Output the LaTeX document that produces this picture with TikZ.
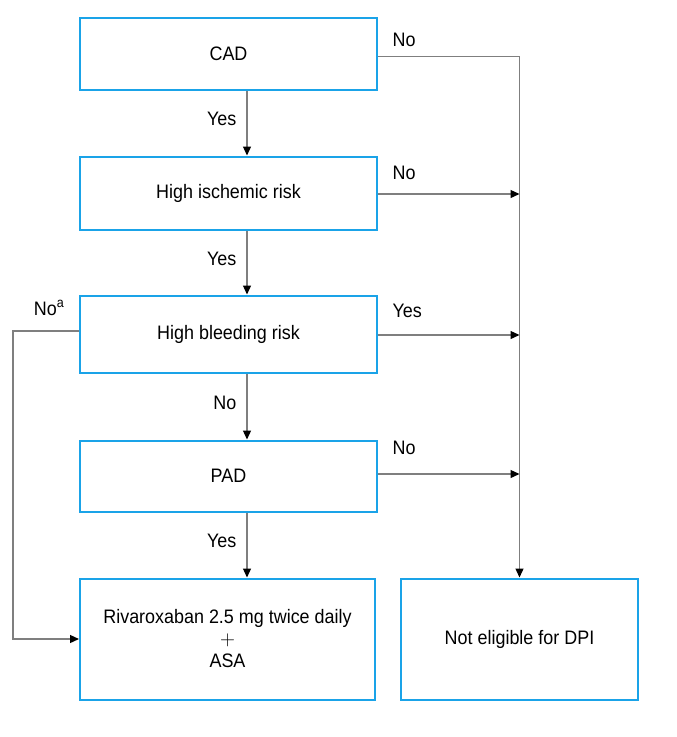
\documentclass[tikz,border=0pt]{standalone}
\usepackage{fontspec}
\setmainfont{Liberation Sans}[FakeStretch=0.92]
\usetikzlibrary{arrows.meta,positioning}
\definecolor{boxblue}{HTML}{1AA3E8}
\definecolor{linegray}{HTML}{7F7F7F}

\begin{document}
\begin{tikzpicture}[
    font=\fontsize{19.5}{22}\selectfont,
    box/.style={draw=boxblue,line width=2pt,minimum width=297pt,minimum height=73pt,inner sep=2pt,align=center},
    endbox/.style={box,minimum height=121pt},
    lab/.style={inner sep=1pt},
    arr/.style={draw=linegray,line width=1.3pt,-{Triangle[length=9pt,width=8pt,fill=black,color=black]}},
  ]
    \useasboundingbox (0pt,0pt) rectangle (677pt,-737pt);

    \node[box,minimum height=72pt] (cad) at (228.5pt,-53.5pt) {CAD};
    \node[box,below=65pt of cad] (isch) {High ischemic risk};
    \node[box,minimum height=77pt,below=64pt of isch] (bleed) {High bleeding risk};
    \node[box,minimum height=71pt,below=66pt of bleed] (pad) {PAD};
    \node[endbox,minimum width=295pt,below=65pt of pad.south west,anchor=north west] (riva) {Rivaroxaban 2.5 mg twice daily\\$+$\\ASA};
    \node[endbox,minimum width=237pt,right=24pt of riva] (nelig) {Not eligible for DPI};
    \coordinate (col) at (247pt,0pt);

    % main column
    \draw[arr] (cad.south -| col) -- node[left,lab,xshift=-9pt,yshift=4pt]{Yes} (isch.north -| col);
    \draw[arr] (isch.south -| col) -- node[left,lab,xshift=-9pt,yshift=4pt]{Yes} (bleed.north -| col);
    \draw[arr] (bleed.south -| col) -- node[left,lab,xshift=-9pt,yshift=4pt]{No} (pad.north -| col);
    \draw[arr] (pad.south -| col) -- node[left,lab,xshift=-9pt,yshift=4pt]{Yes} (riva.north -| col);

    % right rail
    \draw[arr] ([yshift=-3pt]cad.east) -- node[pos=0,above right,lab,xshift=13pt,yshift=8pt]{No} ([yshift=-3pt]cad.east -| nelig.north) -- (nelig.north);
    \draw[arr] ([yshift=-1pt]isch.east) -- node[pos=0,above right,lab,xshift=13pt,yshift=13pt]{No} ([yshift=-1pt]isch.east -| nelig.north);
    \draw[arr] ([yshift=-1pt]bleed.east) -- node[pos=0,above right,lab,xshift=13pt,yshift=16pt]{Yes} ([yshift=-1pt]bleed.east -| nelig.north);
    \draw[arr] ([yshift=2pt]pad.east) -- node[pos=0,above right,lab,xshift=13pt,yshift=18pt]{No} ([yshift=2pt]pad.east -| nelig.north);

    % left bypass
    \draw[arr] ([yshift=3pt]bleed.west) -- node[pos=0,above left,lab,xshift=-13pt,yshift=14pt]{No\textsuperscript{a}} ++(-66pt,0) |- (riva.west);
  \end{tikzpicture}
\end{document}
